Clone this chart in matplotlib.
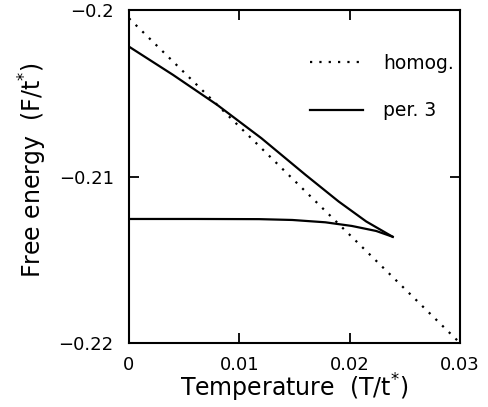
import numpy as np
import matplotlib.pyplot as plt

plt.rcParams['font.family'] = ['DejaVu Sans']

# homogeneous phase (straight dotted line)
homog_T = [0.0, 0.03]
homog_F = [-0.2005, -0.2200]

# period-3 phase, upper branch
upper_T = [0.0, 0.004, 0.008, 0.012, 0.016, 0.019, 0.0215, 0.0239]
upper_F = [-0.2022, -0.2039, -0.2057, -0.2077, -0.2099, -0.2115, -0.2127, -0.21362]

# period-3 phase, lower branch
lower_T = [0.0, 0.006, 0.0118, 0.0148, 0.0178, 0.0202, 0.0224, 0.0239]
lower_F = [-0.21255, -0.21255, -0.21256, -0.21261, -0.21275, -0.21297, -0.21327, -0.21362]

xticks = [0, 0.01, 0.02, 0.03]
xlabels = ['0', '0.01', '0.02', '0.03']
yticks = [-0.22, -0.21, -0.2]
ylabels = ['\u22120.22', '\u22120.21', '\u22120.2']

fig = plt.figure(figsize=(4.89, 4.07), dpi=100)
ax = fig.add_axes([0.2638, 0.1572, 0.6769, 0.8182])

ax.plot(homog_T, homog_F, color='black', lw=1.6, linestyle=(0, (1, 3.2)), label='homog.')
ax.plot(upper_T, upper_F, color='black', lw=1.6, label='per. 3')
ax.plot(lower_T, lower_F, color='black', lw=1.6)

ax.set_xlim(0, 0.03)
ax.set_ylim(-0.22, -0.2)
ax.set_xticks(xticks)
ax.set_xticklabels(xlabels)
ax.set_yticks(yticks)
ax.set_yticklabels(ylabels)
ax.tick_params(direction='in', length=7, width=1.3, top=True, right=True,
               labelsize=13, pad=9)
ax.tick_params(axis='y', pad=11)
for s in ax.spines.values():
    s.set_linewidth(1.5)

ax.set_xlabel(r'Temperature  (T/t$^{*}$)', fontsize=17)
ax.set_ylabel(r'Free energy  (F/t$^{*}$)', fontsize=17)
ax.xaxis.set_label_coords(0.5, -0.087)
ax.yaxis.set_label_coords(-0.242, 0.52)

ax.legend(loc='upper left', frameon=False, fontsize=13.5, handlelength=2.8,
          handletextpad=1.1, labelspacing=1.5, borderpad=0, borderaxespad=0,
          bbox_to_anchor=(0.547, 0.868))

fig.savefig('out.png', dpi=100)
